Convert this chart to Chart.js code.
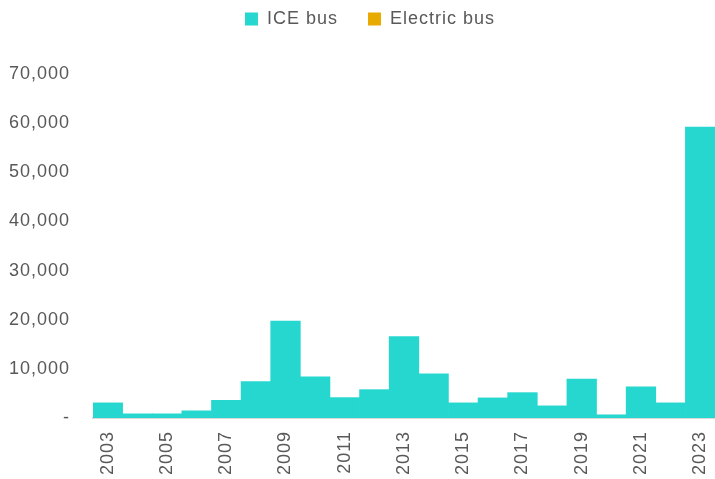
<!DOCTYPE html>
<html>
<head>
<meta charset="utf-8">
<script src="https://cdn.jsdelivr.net/npm/chart.js@4/dist/chart.umd.min.js"></script>
<style>
  html, body { margin: 0; padding: 0; background: #fff; }
  #wrap { position: relative; width: 715px; height: 479px; }
</style>
</head>
<body>
<div id="wrap"><canvas id="chart"></canvas></div>
<script>
// years on the x axis
const years = ['2003', '2004', '2005', '2006', '2007', '2008', '2009', '2010', '2011', '2012',
  '2013', '2014', '2015', '2016', '2017', '2018', '2019', '2020', '2021', '2022', '2023'];
// bus counts
const iceBus = [3080, 850, 850, 1460, 3600, 7390, 19740, 8400, 4150, 5770,
  16560, 9010, 3080, 4090, 5160, 2470, 7940, 650, 6320, 3080, 59200];
const electricBus = [0, 0, 0, 0, 0, 0, 0, 0, 0, 0,
  0, 0, 0, 0, 0, 0, 0, 0, 0, 0, 0];
const yTicks = [0, 10000, 20000, 30000, 40000, 50000, 60000, 70000];

const textColor = '#595959';
const font = { family: '"Liberation Sans", Arial, sans-serif', size: 18 };

// the original font is set a bit wider than Liberation Sans
const spacing = {
  id: 'spacing',
  beforeLayout: function (chart) { chart.ctx.letterSpacing = '1px'; },
  beforeDraw: function (chart) { chart.ctx.letterSpacing = '1px'; }
};

// legend: room below it, and nudged right so it sits where the original one does
const legendGap = {
  id: 'legendGap',
  beforeInit: function (chart) {
    const fit = chart.legend.fit;
    chart.legend.fit = function () {
      fit.call(this);
      this.height = 94;
    };
  },
  afterLayout: function (chart) {
    chart.legend.left += 25;
  }
};

new Chart(document.getElementById('chart').getContext('2d'), {
  type: 'bar',
  data: {
    labels: years,
    datasets: [
      { label: 'ICE bus', data: iceBus, backgroundColor: '#26D7CF', borderWidth: 0 },
      { label: 'Electric bus', data: electricBus, backgroundColor: '#E8A900', borderWidth: 0, inflateAmount: 0 }
    ]
  },
  options: {
    responsive: true,
    maintainAspectRatio: false,
    animation: false,
    layout: { padding: { left: 0, right: 0, top: -20, bottom: 0 } },
    datasets: { bar: { barPercentage: 1, categoryPercentage: 1 } },
    scales: {
      x: {
        stacked: true,
        grid: { display: false, drawTicks: false },
        border: { display: true, color: '#d9d9d9', width: 2 },
        afterFit: function (axis) { axis.paddingLeft = 0; axis.paddingRight = 0; axis.height = 61; },
        ticks: {
          color: textColor,
          font: font,
          autoSkip: false,
          minRotation: 90,
          maxRotation: 90,
          padding: 13,
          callback: function (v, i) { return i % 2 === 0 ? years[i] : ''; }
        }
      },
      y: {
        stacked: true,
        min: 0,
        max: 70000,
        grid: { display: false, drawTicks: false },
        border: { display: false },
        afterBuildTicks: function (axis) { axis.ticks = yTicks.map(function (v) { return { value: v }; }); },
        afterFit: function (axis) { axis.width = 93; },
        ticks: {
          color: textColor,
          font: font,
          padding: 23,
          callback: function (v) { return v === 0 ? '-' : v.toLocaleString('en-US'); }
        }
      }
    },
    plugins: {
      legend: {
        position: 'top',
        labels: {
          color: textColor,
          font: font,
          boxWidth: 13,
          boxHeight: 13,
          padding: 30
        }
      },
      tooltip: { enabled: false }
    }
  },
  plugins: [spacing, legendGap]
});
</script>
</body>
</html>
